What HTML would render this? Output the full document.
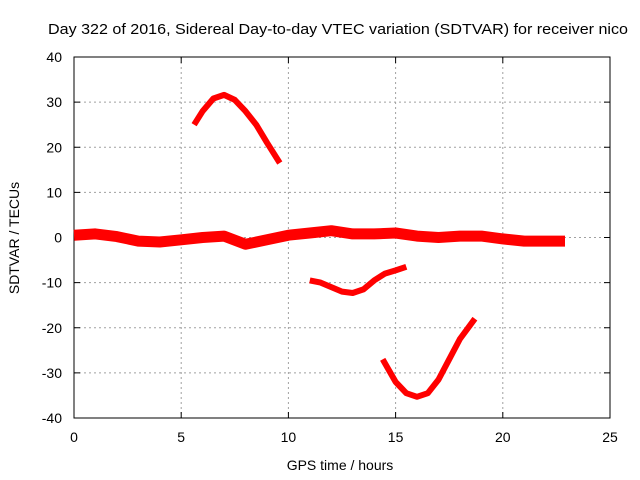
<!DOCTYPE html>
<html><head><meta charset="utf-8"><style>
body{margin:0;background:#fff}
svg{display:block;font-family:"Liberation Sans",sans-serif;font-size:14px}
</style></head><body>
<svg id="chart" width="640" height="480">
<rect width="640" height="480" fill="#fff"/>
<text x="48" y="34" font-size="15" textLength="580" lengthAdjust="spacingAndGlyphs">Day 322 of 2016, Sidereal Day-to-day VTEC variation (SDTVAR) for receiver nico</text>
<g id="grid"></g>
<g id="axes"></g>
<g id="series"></g>
<text x="340" y="470" text-anchor="middle">GPS time / hours</text>
<text transform="translate(19,238) rotate(-90)" text-anchor="middle">SDTVAR / TECUs</text>
</svg>
<script>
const xTicks=[0,5,10,15,20,25];
const yTicks=[-40,-30,-20,-10,0,10,20,30,40];
const arc1X=[5.6,6.0,6.5,7.0,7.5,8.0,8.5,9.0,9.6];
const arc1Y=[25,28,30.8,31.6,30.5,28,25,21,16.5];
const baseX=[0,1,2,3,4,5,6,7,8,9,10,11,12,13,14,15,16,17,18,19,20,21,22,22.9];
const baseY=[0.5,0.8,0.2,-0.8,-1,-0.5,0,0.3,-1.5,-0.5,0.5,1,1.5,0.8,0.8,1,0.3,0,0.3,0.3,-0.3,-0.8,-0.8,-0.8];
const arc2X=[11,11.5,12,12.5,13,13.5,14,14.5,15,15.5];
const arc2Y=[-9.5,-10,-11,-12,-12.3,-11.5,-9.5,-8,-7.3,-6.5];
const arc3X=[14.4,15,15.5,16,16.5,17,17.5,18,18.7];
const arc3Y=[-27,-32,-34.5,-35.3,-34.5,-31.5,-27,-22.5,-18];
const L=74,R=610,T=57,B=418;
const sx=v=>L+(v-0)/25*(R-L);
const sy=v=>B-(v+40)/80*(B-T);
const NS='http://www.w3.org/2000/svg';
function mk(tag,attrs,parent){const e=document.createElementNS(NS,tag);for(const k in attrs)e.setAttribute(k,attrs[k]);parent.appendChild(e);return e;}
const grid=document.getElementById('grid'),axes=document.getElementById('axes'),series=document.getElementById('series');
xTicks.forEach(t=>{
 if(t>0&&t<25){const g=mk('line',{x1:sx(t),x2:sx(t),y1:T,y2:B,stroke:'#a0a0a0','stroke-dasharray':'2,3'},grid);
 
 }
 const l=mk('text',{x:sx(t),y:B+24,'text-anchor':'middle'},axes);l.textContent=t;
 
 
 mk('line',{x1:sx(t),x2:sx(t),y1:B,y2:B-6,stroke:'#000'},axes);
 mk('line',{x1:sx(t),x2:sx(t),y1:T,y2:T+6,stroke:'#000'},axes);
});
yTicks.forEach(t=>{
 if(t>-40&&t<40){const g=mk('line',{x1:L,x2:R,y1:sy(t),y2:sy(t),stroke:'#a0a0a0','stroke-dasharray':'2,3'},grid);
 
 }
 const l=mk('text',{x:L-12,y:sy(t)+5,'text-anchor':'end'},axes);l.textContent=t;
 
 
 mk('line',{x1:L,x2:L+6,y1:sy(t),y2:sy(t),stroke:'#000'},axes);
 mk('line',{x1:R,x2:R-6,y1:sy(t),y2:sy(t),stroke:'#000'},axes);
});
const fr=mk('rect',{x:L,y:T,width:R-L,height:B-T,fill:'none',stroke:'#000'},axes);


function draw(xs,ys,name,w){
 const d=xs.map((x,i)=>(i?'L':'M')+sx(x).toFixed(1)+','+sy(ys[i]).toFixed(1)).join(' ');
 const p=mk('path',{d:d,fill:'none',stroke:'#ff0000','stroke-width':w,'stroke-linejoin':'round'},series);
 
 
}
draw(baseX,baseY,'series-baseline',11);
draw(arc1X,arc1Y,'series-arc-1',6);
draw(arc2X,arc2Y,'series-arc-2',6);
draw(arc3X,arc3Y,'series-arc-3',6);
</script>
</body></html>
